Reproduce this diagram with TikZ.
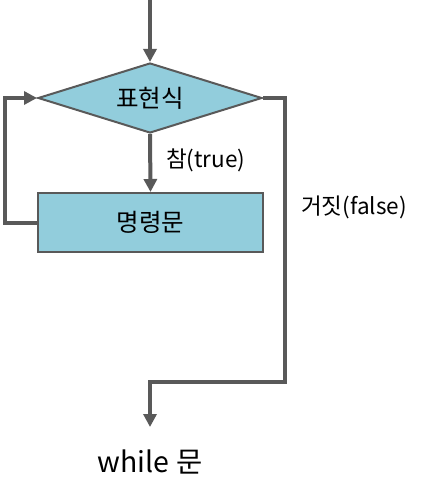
\documentclass[tikz,border=0pt]{standalone}
\usepackage{fontspec}
\setmainfont{Noto Sans CJK KR}
\usetikzlibrary{shapes.geometric,arrows.meta}
\definecolor{boxfill}{HTML}{92CDDC}
\definecolor{linegray}{HTML}{595959}
\begin{document}
\begin{tikzpicture}[x=1pt,y=-1pt,
  shapebox/.style={draw=linegray,line width=2pt,fill=boxfill,inner sep=0pt,font=\fontsize{24.5}{28}\selectfont},
  conn/.style={draw=linegray,line width=4pt,line join=miter},
  arr/.style={conn,-{Triangle[length=13pt,width=13pt]}},
  lbl/.style={font=\fontsize{22.5}{26}\selectfont,inner sep=0pt}]
\useasboundingbox (0,0) rectangle (425,494);
\coordinate (start) at (150,0);
\node[shapebox,diamond,shape aspect=3.2,minimum width=224pt,minimum height=70pt] (cond) at (150,98) {표현식};
\node[shapebox,rectangle,minimum width=225pt,minimum height=59pt] (body) at (150.5,222.5) {명령문};
\coordinate (out) at (150,427);
\node[inner sep=0pt,font=\fontsize{28.5}{32}\selectfont] (endtxt) at (150,462) {while 문};
\node[lbl,anchor=west] (truelbl) at (166,160) {참(true)};
\node[lbl,anchor=west] (falselbl) at (301,207) {거짓(false)};
\draw[arr] (start) -- (cond.north);
\draw[arr] (cond.south) -- (body.north);
\draw[arr] (body.west) -- (5,222.5) -- (5,98) -- (cond.west);
\draw[arr] (cond.east) -- (285,98) -- (285,382) -- (150,382) -- (out);
\end{tikzpicture}
\end{document}
